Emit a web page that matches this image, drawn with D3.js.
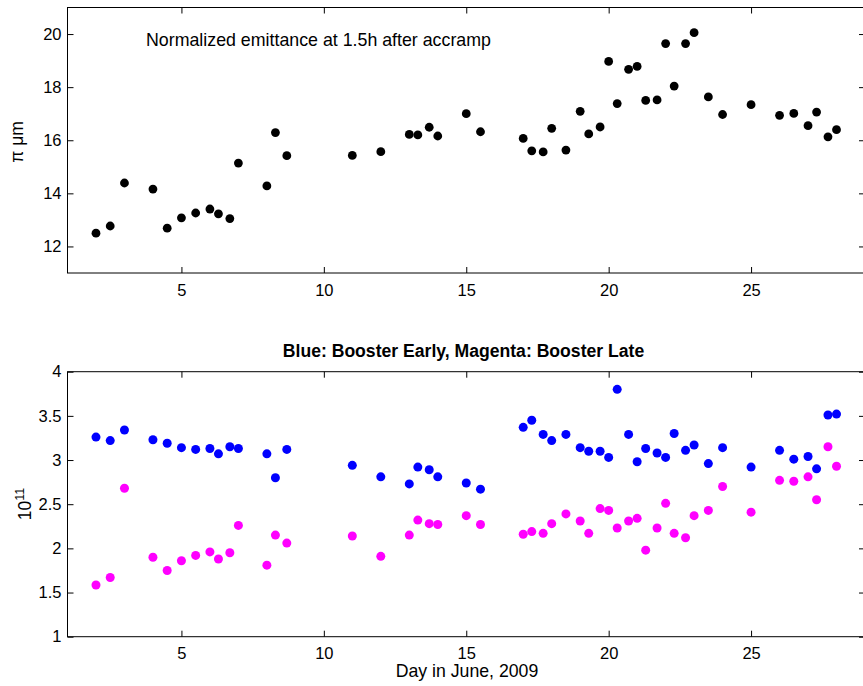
<!DOCTYPE html>
<html><head><meta charset="utf-8">
<script src="https://cdnjs.cloudflare.com/ajax/libs/d3/7.8.5/d3.min.js"></script>
<style>body{margin:0;background:#fff}svg{display:block}text{font-family:"Liberation Sans",Arial,sans-serif}</style>
</head><body>
<script>
const days = [2,2.5,3,4,4.5,5,5.5,6,6.3,6.7,7,8,8.3,8.7,11,12,13,13.3,13.7,14,15,15.5,17,17.3,17.7,18,18.5,19,19.3,19.7,20,20.3,20.7,21,21.3,21.7,22,22.3,22.7,23,23.5,24,25,26,26.5,27,27.3,27.7,28];
const emittance = [12.50,12.77,14.39,14.16,12.69,13.08,13.26,13.41,13.23,13.05,15.14,14.28,16.29,15.42,15.43,15.57,16.22,16.20,16.49,16.16,17.00,16.32,16.07,15.60,15.56,16.45,15.63,17.09,16.24,16.50,18.97,17.38,18.67,18.78,17.50,17.52,19.64,18.04,19.64,20.05,17.63,16.97,17.34,16.94,17.01,16.55,17.06,16.13,16.40];
const boosterEarly = [3.26,3.22,3.34,3.23,3.19,3.14,3.12,3.13,3.07,3.15,3.13,3.07,2.80,3.12,2.94,2.81,2.73,2.92,2.89,2.81,2.74,2.67,3.37,3.45,3.29,3.22,3.29,3.14,3.10,3.10,3.03,3.80,3.29,2.98,3.13,3.08,3.03,3.30,3.11,3.17,2.96,3.14,2.92,3.11,3.01,3.04,2.90,3.51,3.52];
const boosterLate = [1.585,1.67,2.68,1.90,1.75,1.86,1.92,1.96,1.88,1.95,2.26,1.81,2.15,2.06,2.14,1.91,2.15,2.32,2.28,2.27,2.37,2.27,2.16,2.19,2.17,2.28,2.39,2.31,2.17,2.45,2.43,2.23,2.31,2.34,1.98,2.23,2.51,2.17,2.12,2.37,2.43,2.70,2.41,2.77,2.76,2.81,2.55,3.15,2.93];
const xTicks = [5,10,15,20,25];
const topTicks = [12,14,16,18,20];
const bottomTicks = [1,1.5,2,2.5,3,3.5,4];

const W = 863, H = 686;
const svg = d3.select("body").append("svg").attr("width", W).attr("height", H);
const x = d3.scaleLinear().domain([1,29]).range([67.5,865]);
const yTop = d3.scaleLinear().domain([11,21]).range([273,7.5]);
const yBot = d3.scaleLinear().domain([1,4]).range([636.7,371.7]);

function panel(y, ticksY, fmt){
  const g = svg.append("g");
  const [y0,y1] = y.range();
  const [x0,x1] = x.range();
  g.append("rect").attr("x",x0).attr("y",y1).attr("width",x1-x0).attr("height",y0-y1)
   .attr("fill","none").attr("stroke","#000").attr("stroke-width",1);
  const ax = (sel)=>{sel.select(".domain").remove(); sel.selectAll("text").attr("font-size",16.5).attr("fill","#000").style("font-family","Liberation Sans, Arial, sans-serif"); sel.selectAll("line").attr("stroke","#000");};
  g.append("g").attr("transform",`translate(0,${y0})`)
    .call(d3.axisBottom(x).tickValues(xTicks).tickSize(-6).tickPadding(11).tickFormat(d3.format("d"))).call(ax);
  g.append("g").attr("transform",`translate(0,${y1})`)
    .call(d3.axisTop(x).tickValues(xTicks).tickSize(-6).tickFormat("")).call(ax);
  g.append("g").attr("transform",`translate(${x0},0)`)
    .call(d3.axisLeft(y).tickValues(ticksY).tickSize(-6).tickPadding(6).tickFormat(fmt)).call(ax);
  g.append("g").attr("transform",`translate(${x1},0)`)
    .call(d3.axisRight(y).tickValues(ticksY).tickSize(-6).tickFormat("")).call(ax);
  return g;
}

panel(yTop, topTicks, d3.format("d"));
panel(yBot, bottomTicks, d=>d3.format("")(d));

svg.append("g").selectAll("circle").data(days).join("circle")
  .attr("cx", d=>x(d)).attr("cy",(d,i)=>yTop(emittance[i])).attr("r",4.4).attr("fill","#000");
svg.append("g").selectAll("circle").data(days).join("circle")
  .attr("cx", d=>x(d)).attr("cy",(d,i)=>yBot(boosterEarly[i])).attr("r",4.5).attr("fill","#0000ff");
svg.append("g").selectAll("circle").data(days).join("circle")
  .attr("cx", d=>x(d)).attr("cy",(d,i)=>yBot(boosterLate[i])).attr("r",4.5).attr("fill","#ff00ff");

svg.append("text").attr("x",146).attr("y",46).attr("font-size",17.8).text("Normalized emittance at 1.5h after accramp");
svg.append("text").attr("x",463.5).attr("y",357).attr("font-size",17.6).attr("font-weight","bold").attr("text-anchor","middle")
  .text("Blue: Booster Early, Magenta: Booster Late");
svg.append("text").attr("x",467).attr("y",677).attr("font-size",17.7).attr("text-anchor","middle").text("Day in June, 2009");
svg.append("text").attr("transform","translate(23,142) rotate(-90)").attr("font-size",17.5).attr("text-anchor","middle").text("π μm");
const yl = svg.append("text").attr("transform","translate(31,504) rotate(-90)").attr("font-size",17.5).attr("text-anchor","middle");
yl.append("tspan").text("10");
yl.append("tspan").attr("dy",-7).attr("font-size",12.5).text("11");
</script>
</body></html>
